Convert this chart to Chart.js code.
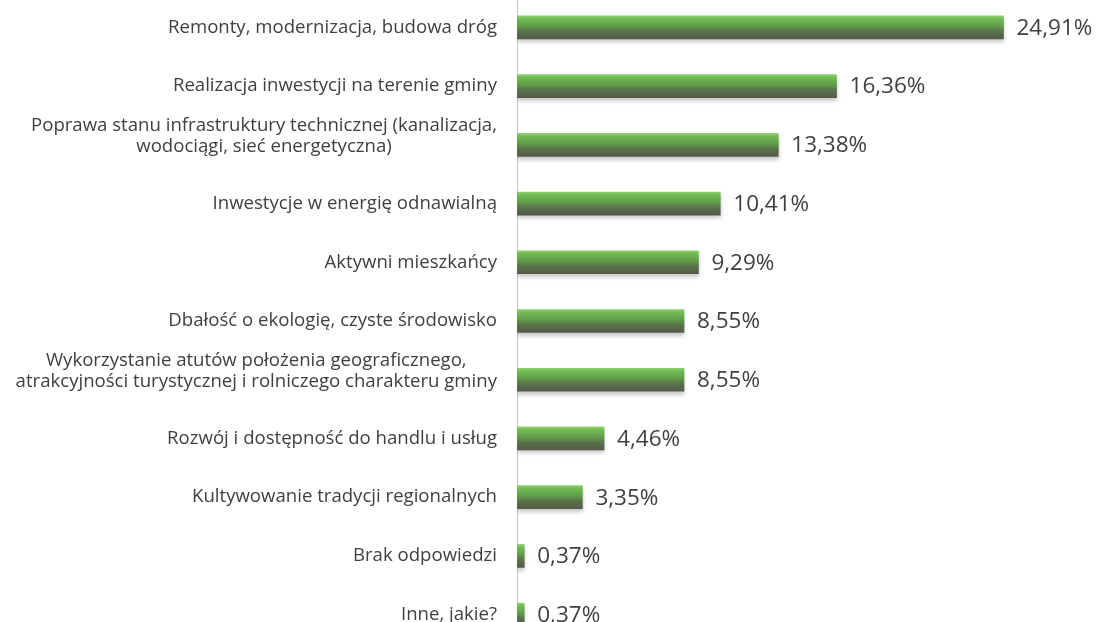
<!DOCTYPE html>
<html>
<head>
<meta charset="utf-8">
<script src="https://cdn.jsdelivr.net/npm/chart.js@4.4.1/dist/chart.umd.min.js"></script>
<style>
  html, body { margin: 0; padding: 0; background: #fff; overflow: hidden; }
  #wrap { position: absolute; left: 0; top: -2px; width: 1103px; height: 646px; }
</style>
</head>
<body>
<div id="wrap"><canvas id="chart" width="1103" height="646"></canvas></div>
<script>
// categories (multi-line labels as arrays)
const categories = [
    ["Remonty, modernizacja, budowa dróg"],
    ["Realizacja inwestycji na terenie gminy"],
    ["Poprawa stanu infrastruktury technicznej (kanalizacja,", "wodociągi, sieć energetyczna)"],
    ["Inwestycje w energię odnawialną"],
    ["Aktywni mieszkańcy"],
    ["Dbałość o ekologię, czyste środowisko"],
    ["Wykorzystanie atutów położenia geograficznego,", "atrakcyjności turystycznej i rolniczego charakteru gminy"],
    ["Rozwój i dostępność do handlu i usług"],
    ["Kultywowanie tradycji regionalnych"],
    ["Brak odpowiedzi"],
    ["Inne, jakie?"]
];

// percentages
const values = [24.91, 16.36, 13.38, 10.41, 9.29, 8.55, 8.55, 4.46, 3.35, 0.37, 0.37];

// value labels as printed
const valueLabels = ["24,91%", "16,36%", "13,38%", "10,41%", "9,29%", "8,55%", "8,55%", "4,46%", "3,35%", "0,37%", "0,37%"];

const labelFont = '18.6px "Open Sans", Lato, sans-serif';
const valueFont = '22.5px "Open Sans", Lato, sans-serif';
const textColor = "#404040";
const barHeight = 23;

// green bar gradient, light top to dark olive bottom
function barGradient(context) {
    const chart = context.chart;
    const yScale = chart.scales.y;
    if (!yScale || context.dataIndex === undefined) return "#5c9a45";
    const cy = yScale.getPixelForValue(context.dataIndex);
    if (!isFinite(cy)) return "#5c9a45";
    const g = chart.ctx.createLinearGradient(0, cy - barHeight / 2, 0, cy + barHeight / 2);
    g.addColorStop(0, "#8ed26c");
    g.addColorStop(0.12, "#72bb55");
    g.addColorStop(0.45, "#5f9d48");
    g.addColorStop(0.68, "#5b704c");
    g.addColorStop(1, "#535c49");
    return g;
}

// draw category labels: lines centred on each other, block right-aligned
const categoryLabels = {
    id: "categoryLabels",
    afterDraw(chart) {
        const ctx = chart.ctx;
        const yScale = chart.scales.y;
        const right = 497;
        const lineHeight = 21;
        ctx.save();
        ctx.font = labelFont;
        ctx.fillStyle = textColor;
        ctx.textAlign = "center";
        ctx.textBaseline = "middle";
        categories.forEach((lines, i) => {
            const cy = yScale.getPixelForValue(i);
            let maxW = 0;
            lines.forEach(l => { maxW = Math.max(maxW, ctx.measureText(l).width); });
            const cx = right - maxW / 2;
            const lastY = lines.length > 1 ? cy + 2 : cy;
            lines.forEach((l, k) => {
                ctx.fillText(l, cx, lastY - (lines.length - 1 - k) * lineHeight);
            });
        });
        ctx.restore();
    }
};

// value labels at bar ends
const valueLabelPlugin = {
    id: "valueLabels",
    afterDatasetsDraw(chart) {
        const ctx = chart.ctx;
        const meta = chart.getDatasetMeta(0);
        ctx.save();
        ctx.shadowColor = "transparent";
        ctx.font = valueFont;
        ctx.fillStyle = textColor;
        ctx.textAlign = "left";
        ctx.textBaseline = "middle";
        meta.data.forEach((bar, i) => {
            ctx.fillText(valueLabels[i], bar.x + 13, bar.y + 1);
        });
        ctx.restore();
    }
};

// soft shadow under bars
const barShadow = {
    id: "barShadow",
    beforeDatasetsDraw(chart) {
        const ctx = chart.ctx;
        ctx.save();
        ctx.shadowColor = "rgba(0,0,0,0.22)";
        ctx.shadowBlur = 4;
        ctx.shadowOffsetY = 3;
    },
    afterDatasetsDraw(chart) {
        chart.ctx.restore();
    }
};

new Chart(document.getElementById("chart"), {
    type: "bar",
    data: {
        labels: categories,
        datasets: [{
            data: values,
            backgroundColor: barGradient,
            borderWidth: 0,
            barThickness: barHeight
        }]
    },
    options: {
        indexAxis: "y",
        responsive: false,
        animation: false,
        layout: { padding: { left: 0, right: 4, top: 0, bottom: 0 } },
        plugins: {
            legend: { display: false },
            tooltip: { enabled: false }
        },
        scales: {
            x: {
                display: false,
                min: 0,
                max: 29.8
            },
            y: {
                offset: true,
                grid: { display: false },
                border: { display: true, color: "#c4c4c4", width: 1 },
                ticks: { display: false },
                afterFit(scale) { scale.width = 517; }
            }
        }
    },
    plugins: [barShadow, valueLabelPlugin, categoryLabels]
});
</script>
</body>
</html>
